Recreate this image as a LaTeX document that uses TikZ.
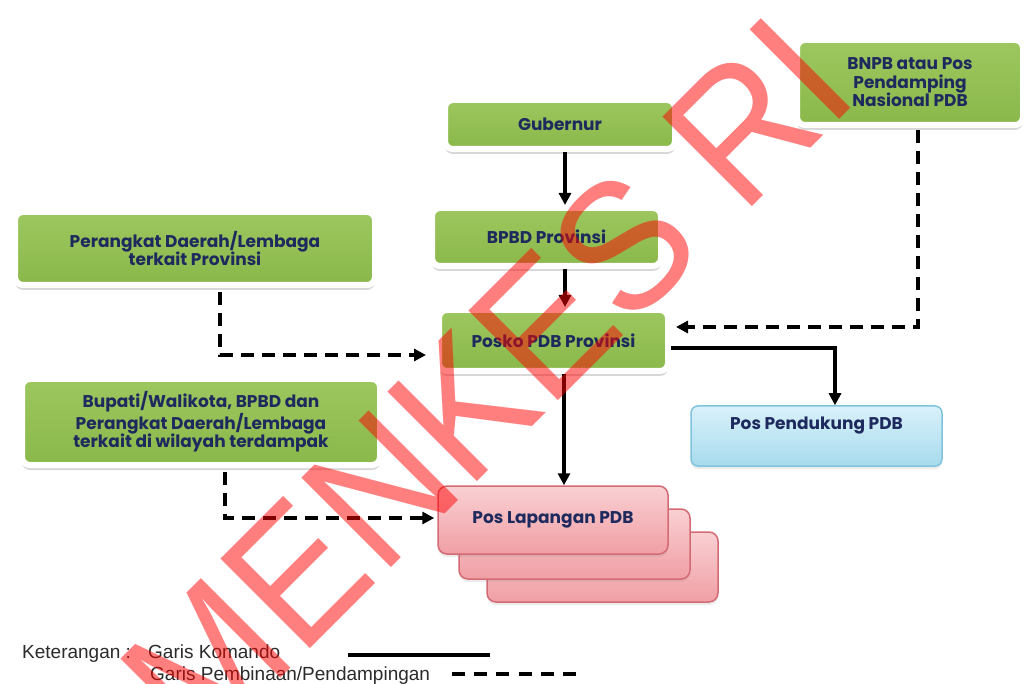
\documentclass[tikz,border=0pt]{standalone}
\usepackage{fontspec}
\setmainfont{Liberation Sans}
\newfontfamily\boxfont{Poppins}
\usetikzlibrary{arrows.meta,shadows}
\definecolor{bgreentop}{HTML}{9DC75F}
\definecolor{bgreenbot}{HTML}{8AB84A}
\definecolor{navy}{HTML}{1E2A5E}
\definecolor{bluetop}{HTML}{D9F1FA}
\definecolor{bluebot}{HTML}{A7DBED}
\definecolor{blueline}{HTML}{7FC4DC}
\definecolor{pinktop}{HTML}{F9D0D3}
\definecolor{pinkbot}{HTML}{F09FA5}
\definecolor{pinkline}{HTML}{D46B74}
\definecolor{legtext}{HTML}{2B2B2B}
\begin{document}
\begin{tikzpicture}[x=1pt,y=-1pt,
  boxtext/.style={font=\boxfont\bfseries\fontsize{17}{18.5}\selectfont, text=navy, align=center, inner sep=0pt},
  gbox/.style={boxtext, rectangle, rounded corners=8pt, top color=bgreentop, bottom color=bgreenbot,
    draw=white, line width=6pt, drop shadow={shadow xshift=0pt, shadow yshift=-5pt, opacity=0.25, fill=black!60}},
  bbox/.style={boxtext, rectangle, rounded corners=7pt, top color=bluetop, bottom color=bluebot,
    draw=blueline, line width=1.5pt, drop shadow={shadow xshift=0pt, shadow yshift=-3pt, opacity=0.15, fill=black!50}},
  lbox/.style={boxtext, rectangle, rounded corners=9pt, top color=pinktop, bottom color=pinkbot,
    draw=pinkline, line width=1.5pt, drop shadow={shadow xshift=0pt, shadow yshift=-3pt, opacity=0.15, fill=black!50}},
  cmd/.style={line width=3.5pt, -{Triangle[length=12pt,width=12pt]}},
  pem/.style={line width=3.5pt, dash pattern=on 13pt off 8pt, -{Triangle[length=12pt,width=12pt]}},
  legtxt/.style={font=\fontsize{19}{21}\selectfont, text=legtext, inner sep=0pt}
]
\useasboundingbox (0,0) rectangle (1028,684);
\fill[white] (0,0) rectangle (1028,684);

% boxes
\node[gbox, minimum width=226pt, minimum height=85pt] (bnpb) at (910,82.5) {BNPB atau Pos\\Pendamping\\Nasional PDB};
\node[gbox, minimum width=230pt, minimum height=49pt] (gub) at (560,124.5) {Gubernur};
\node[gbox, minimum width=229pt, minimum height=58pt] (bpbd) at (546.5,237) {BPBD Provinsi};
\node[gbox, minimum width=360pt, minimum height=73pt] (perprov) at (195,248.5) {Perangkat Daerah/Lembaga\\terkait Provinsi};
\node[gbox, minimum width=229pt, minimum height=61pt] (posko) at (553.5,340.5) {Posko PDB Provinsi};
\node[gbox, minimum width=358pt, minimum height=86pt] (bupati) at (201,422) {Bupati/Walikota, BPBD dan\\Perangkat Daerah/Lembaga\\terkait di wilayah terdampak};
\node[bbox, minimum width=251pt, minimum height=60pt, text depth=26pt] (pendukung) at (816.5,436) {Pos Pendukung PDB};
\node[lbox, minimum width=231pt, minimum height=70pt] (lap3) at (602.5,567) {};
\node[lbox, minimum width=231pt, minimum height=70pt] (lap2) at (574.5,544) {};
\node[lbox, minimum width=230pt, minimum height=68pt] (lap1) at (553,520) {Pos Lapangan PDB};

% command lines
\coordinate (cx) at (565,0);
\coordinate (cx2) at (564,0);
\draw[cmd] (gub.south -| cx) -- (bpbd.north -| cx);
\draw[cmd] (bpbd.south -| cx) -- (posko.north -| cx);
\draw[cmd] (posko.south -| cx2) -- (lap1.north -| cx2);
\coordinate (py) at (0,348);
\coordinate (pxr) at (835,0);
\draw[cmd] (posko.east |- py) -| (pendukung.north -| pxr);

% guidance lines
\coordinate (by) at (0,327);
\coordinate (bx) at (918,0);
\draw[pem, shorten <=2pt, shorten >=5pt] (bnpb.south -| bx) |- (posko.east |- by);
\coordinate (ay) at (0,355);
\coordinate (ax) at (220,0);
\draw[pem, shorten <=4pt, shorten >=10pt] (perprov.south -| ax) |- (posko.west |- ay);
\coordinate (cy) at (0,518);
\coordinate (cxx) at (225,0);
\draw[pem, shorten <=4pt, shorten >=3pt] (bupati.south -| cxx) |- (lap1.west |- cy);

% legend
\node[legtxt, anchor=base west] (ket) at (22,658) {Keterangan :};
\node[legtxt, anchor=base west] (gk) at (148,658) {Garis Komando};
\node[legtxt, anchor=base west] (gp) at (150,680) {Garis Pembinaan/Pendampingan};
\coordinate (l1a) at (348,655);
\coordinate (l1b) at (490,655);
\draw[line width=4pt] (l1a) -- (l1b);
\coordinate (l2a) at (452,674);
\coordinate (l2b) at (576,674);
\draw[line width=3.5pt, dash pattern=on 13pt off 9.2pt] (l2a) -- (l2b);

% watermark
\begin{scope}[shift={(862.7,96.3)}, rotate=45, xscale=0.925]
\node[transform shape, anchor=base east, inner sep=0pt, text=red, text opacity=0.5,
  font=\fontsize{184}{184}\selectfont] (wm) at (0,0) {MENKES RI};
\end{scope}
\end{tikzpicture}
\end{document}
